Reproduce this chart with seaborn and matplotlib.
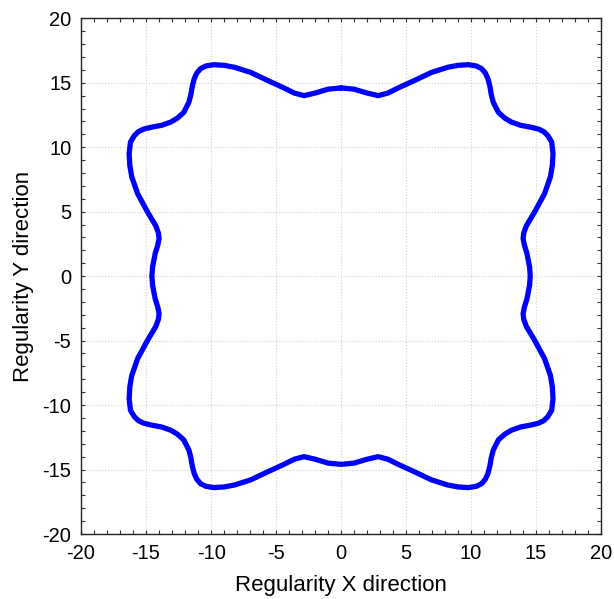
import numpy as np
import pandas as pd
import matplotlib
matplotlib.use("Agg")
import matplotlib.pyplot as plt
from matplotlib.ticker import MultipleLocator
import seaborn as sns

# curve traced counter-clockwise, starting at the top (0, 14.6)
upper_left_x = [0, -1.0, -2.0, -2.85, -3.6, -4.4, -5.7, -6.95, -8.2, -9.0, -9.8, -10.4, -10.8,
                -11.1, -11.3, -11.45, -11.55, -11.7, -12.1, -12.6, -13.1, -13.8, -14.6, -15.2,
                -15.6, -15.9, -16.2, -16.3, -16.25, -16.1, -15.65, -14.9, -14.25, -14.05, -14.0,
                -14.1, -14.3, -14.5, -14.55]
upper_left_y = [14.6, 14.5, 14.2, 14.0, 14.2, 14.6, 15.2, 15.8, 16.2, 16.35, 16.4, 16.3, 16.1,
                15.75, 15.3, 14.7, 14.1, 13.5, 12.7, 12.25, 11.95, 11.7, 11.55, 11.4,
                11.2, 10.9, 10.4, 9.5, 8.6, 7.7, 6.4, 5.0, 3.9, 3.35, 2.9,
                2.4, 1.75, 0.7, 0]

lower_left_x = [-14.5, -14.3, -14.1, -14.0, -14.05, -14.25, -14.9, -15.65, -16.1, -16.25, -16.3,
                -16.2, -15.9, -15.6, -15.2, -14.6, -13.8, -13.1, -12.6, -12.1, -11.7, -11.55,
                -11.45, -11.3, -11.1, -10.8, -10.4, -9.8, -9.0, -8.2, -6.95, -5.7, -4.4, -3.6,
                -2.85, -2.0, -1.0, 0]
lower_left_y = [-0.7, -1.75, -2.4, -2.9, -3.35, -3.9, -5.0, -6.4, -7.7, -8.6, -9.5,
                -10.4, -10.9, -11.2, -11.4, -11.55, -11.7, -11.95, -12.25, -12.7, -13.5, -14.1,
                -14.7, -15.3, -15.75, -16.1, -16.3, -16.4, -16.35, -16.2, -15.8, -15.2, -14.6, -14.2,
                -14.0, -14.2, -14.5, -14.6]

lower_right_x = [1.0, 2.0, 2.85, 3.6, 4.4, 5.7, 6.95, 8.2, 9.0, 9.8, 10.4, 10.8, 11.1, 11.3,
                 11.45, 11.55, 11.7, 12.1, 12.6, 13.1, 13.8, 14.6, 15.2, 15.6, 15.9, 16.2,
                 16.3, 16.25, 16.1, 15.65, 14.9, 14.25, 14.05, 14.0, 14.1, 14.3, 14.5, 14.55]
lower_right_y = [-14.5, -14.2, -14.0, -14.2, -14.6, -15.2, -15.8, -16.2, -16.35, -16.4, -16.3,
                 -16.1, -15.75, -15.3, -14.7, -14.1, -13.5, -12.7, -12.25, -11.95, -11.7,
                 -11.55, -11.4, -11.2, -10.9, -10.4, -9.5, -8.6, -7.7, -6.4, -5.0, -3.9, -3.35,
                 -2.9, -2.4, -1.75, -0.7, 0]

upper_right_x = [14.5, 14.3, 14.1, 14.0, 14.05, 14.25, 14.9, 15.65, 16.1, 16.25, 16.3, 16.2,
                 15.9, 15.6, 15.2, 14.6, 13.8, 13.1, 12.6, 12.1, 11.7, 11.55, 11.45, 11.3,
                 11.1, 10.8, 10.4, 9.8, 9.0, 8.2, 6.95, 5.7, 4.4, 3.6, 2.85, 2.0, 1.0, 0]
upper_right_y = [0.7, 1.75, 2.4, 2.9, 3.35, 3.9, 5.0, 6.4, 7.7, 8.6, 9.5, 10.4,
                 10.9, 11.2, 11.4, 11.55, 11.7, 11.95, 12.25, 12.7, 13.5, 14.1, 14.7, 15.3,
                 15.75, 16.1, 16.3, 16.4, 16.35, 16.2, 15.8, 15.2, 14.6, 14.2, 14.0, 14.2,
                 14.5, 14.6]

ticks = [-20, -15, -10, -5, 0, 5, 10, 15, 20]

curve = pd.DataFrame({
    "x": upper_left_x + lower_left_x + lower_right_x + upper_right_x,
    "y": upper_left_y + lower_left_y + lower_right_y + upper_right_y,
})
curve["order"] = np.arange(len(curve))

sns.set_style("white")
plt.rcParams["font.family"] = ["Liberation Sans", "DejaVu Sans"]

fig = plt.figure(figsize=(6.14, 5.99), dpi=100)
ax = fig.add_axes([0.132, 0.1085, 0.847, 0.861])

sns.lineplot(data=curve, x="x", y="y", sort=False, estimator=None,
             color="#0000ff", linewidth=3.8, ax=ax,
             solid_joinstyle="round", solid_capstyle="round")

ax.set_xlim(-20, 20)
ax.set_ylim(-20, 20)
ax.set_xticks(ticks)
ax.set_yticks(ticks)
ax.set_xticklabels([str(t) for t in ticks])
ax.set_yticklabels([str(t) for t in ticks])
ax.xaxis.set_minor_locator(MultipleLocator(1))
ax.yaxis.set_minor_locator(MultipleLocator(1))
ax.tick_params(which="both", direction="in", top=True, right=True,
               bottom=True, left=True, color="#333333")
ax.tick_params(which="major", length=3, width=0.8, labelsize=14.5, pad=7,
               labelcolor="black")
ax.tick_params(which="minor", length=3, width=0.8)
ax.grid(True, which="major", color="#d0d0d0", linestyle=":", linewidth=0.8)
for s in ax.spines.values():
    s.set_color("#222222")
    s.set_linewidth(1.0)

ax.set_xlabel("Regularity X direction", fontsize=16, labelpad=9, color="black")
ax.set_ylabel("Regularity Y direction", fontsize=16, labelpad=6, color="black")

fig.savefig("out.png", dpi=100)
